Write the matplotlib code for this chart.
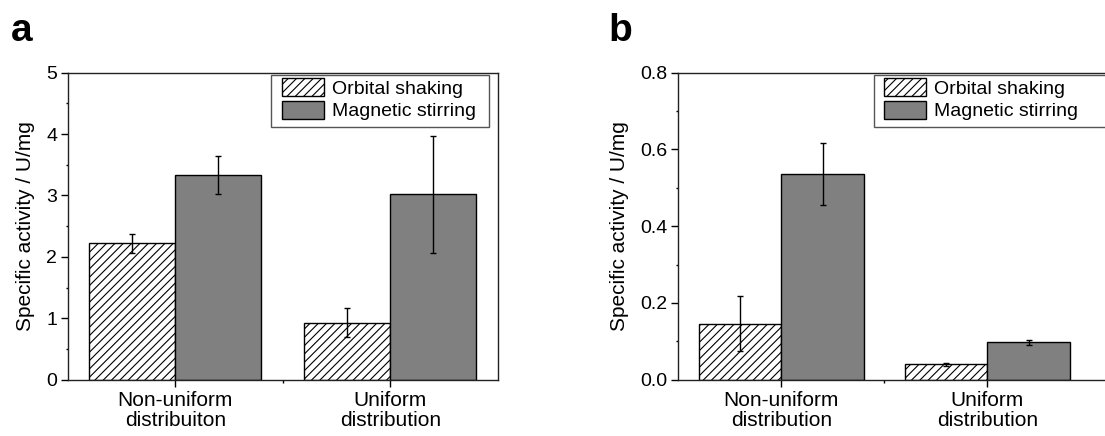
import numpy as np
import matplotlib
matplotlib.use("Agg")
import matplotlib.pyplot as plt
from matplotlib.patches import Rectangle
from matplotlib.ticker import FixedLocator, MultipleLocator, FormatStrFormatter

plt.rcParams["font.family"] = ["Liberation Sans", "DejaVu Sans"]
plt.rcParams["hatch.linewidth"] = 0.8

# ---- datos ----
series = ["Orbital shaking", "Magnetic stirring"]

cats_a = ["Non-uniform\ndistribuiton", "Uniform\ndistribution"]
orbital_a = [2.22, 0.93]
orbital_a_err = [0.155, 0.235]
magnetic_a = [3.33, 3.02]
magnetic_a_err = [0.31, 0.95]

cats_b = ["Non-uniform\ndistribution", "Uniform\ndistribution"]
orbital_b = [0.146, 0.040]
orbital_b_err = [0.072, 0.004]
magnetic_b = [0.536, 0.097]
magnetic_b_err = [0.080, 0.007]

fig = plt.figure(figsize=(11.05, 4.36), dpi=100)
W, H = 1105, 436

# posiciones en pixeles: (izq, abajo, ancho, alto)
ax_a = fig.add_axes([67.7 / W, (H - 379.7) / H, 430.3 / W, 307 / H])
# el panel b esta recortado a la derecha en la imagen original
ax_b = fig.add_axes([678.3 / W, (H - 379.7) / H, 430 / W, 307 / H])

# (eje, categorias, datos..., ylim, ticks, xmax, formato, caja leyenda, ancla leyenda)
panels = [
    (ax_a, cats_a, orbital_a, orbital_a_err, magnetic_a, magnetic_a_err,
     (0, 5), 1, 0.5, 2.5, "%g", (0.4718, 0.8231, 0.508, 0.1704), (0.4973, 0.9827)),
    (ax_b, cats_b, orbital_b, orbital_b_err, magnetic_b, magnetic_b_err,
     (0, 0.8), 0.2, 0.1, 2.587, "%.1f", (0.4551, 0.8231, 0.6, 0.1704), (0.4784, 0.9827)),
]

for (ax, cats, orb, orb_err, mag, mag_err, ylim, major, minor,
     xmax, fmt, box, anchor) in panels:
    x = np.arange(1, len(cats) + 1)
    w = 0.4
    ax.bar(x - w / 2, orb, w, color="white", edgecolor="black", hatch="////",
           linewidth=1, label=series[0], zorder=2)
    ax.bar(x + w / 2, mag, w, color="#808080", edgecolor="black",
           linewidth=1, label=series[1], zorder=2)
    ax.errorbar(x - w / 2, orb, yerr=orb_err, fmt="none", ecolor="black",
                elinewidth=1, capsize=2.5, capthick=1, zorder=3)
    ax.errorbar(x + w / 2, mag, yerr=mag_err, fmt="none", ecolor="black",
                elinewidth=1, capsize=2.5, capthick=1, zorder=3)

    ax.set_xlim(0.5, xmax)
    ax.set_ylim(*ylim)
    ax.set_xticks(x)
    ax.set_xticklabels(cats, fontsize=15, linespacing=1.1)
    ax.xaxis.set_minor_locator(FixedLocator([1.5]))
    ax.yaxis.set_major_locator(MultipleLocator(major))
    ax.yaxis.set_minor_locator(MultipleLocator(minor))
    ax.yaxis.set_major_formatter(FormatStrFormatter(fmt))
    ax.tick_params(axis="y", which="major", direction="out", length=4.7,
                   width=1, labelsize=14, pad=3)
    ax.tick_params(axis="y", which="minor", direction="out", length=1.8, width=1)
    ax.tick_params(axis="x", which="major", direction="out", length=5, width=1, pad=3)
    ax.tick_params(axis="x", which="minor", direction="out", length=2.2, width=1)
    for s in ax.spines.values():
        s.set_linewidth(1)
        s.set_color("#222222")
    ax.set_ylabel("Specific activity / U/mg", fontsize=15, labelpad=8)

    # marco de la leyenda dibujado a mano (relleno asimetrico como el original)
    ax.add_patch(Rectangle(box[:2], box[2], box[3], transform=ax.transAxes,
                           facecolor="white", edgecolor="#555555", lw=1, zorder=4))
    leg = ax.legend(loc="upper left", bbox_to_anchor=anchor, borderaxespad=0,
                    fontsize=14, handlelength=2.16, handleheight=1.07,
                    handletextpad=0.43, labelspacing=0.15, borderpad=0,
                    frameon=False)
    leg.set_zorder(5)

fig.text(11 / W, 1 - 41 / H, "a", fontsize=28, fontweight="bold")
fig.text(608 / W, 1 - 41 / H, "b", fontsize=28, fontweight="bold")

fig.savefig("out.png", dpi=100)
